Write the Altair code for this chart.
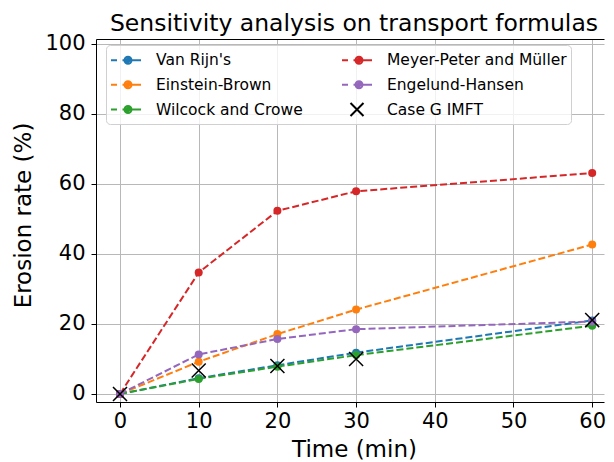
import altair as alt
import pandas as pd

# ---- data ----
time_min = [0, 10, 20, 30, 60]
van_rijn = [0, 4.5, 8.2, 11.8, 21.0]
einstein_brown = [0, 9.2, 17.1, 24.1, 42.7]
wilcock_crowe = [0, 4.3, 7.8, 11.1, 19.5]
meyer_peter_muller = [0, 34.7, 52.3, 57.9, 63.1]
engelund_hansen = [0, 11.3, 15.7, 18.5, 20.7]
case_g_imft = [0, 6.7, 8.0, 10.0, 21.1]

series_names = ["Van Rijn's", "Einstein-Brown", "Wilcock and Crowe",
                "Meyer-Peter and Müller", "Engelund-Hansen"]
series_colors = ["#1f77b4", "#ff7f0e", "#2ca02c", "#d62728", "#9467bd"]
series_values = [van_rijn, einstein_brown, wilcock_crowe,
                 meyer_peter_muller, engelund_hansen]
case_name = "Case G IMFT"

x_ticks = [0, 10, 20, 30, 40, 50, 60]
y_ticks = [0, 20, 40, 60, 80, 100]

# legend entries (filled column by column, 2 columns)
legend_order = series_names + [case_name]
legend_colors = series_colors + ["#000000"]

# dashed line with a dot (dot = concentric stroked rings -> solid disc)
line_marker_path = ("M-1.5,0H-0.9M-0.35,0H1.5"
                    "M0.55,0A0.35,0.35,0,1,1,-0.15,0A0.35,0.35,0,1,1,0.55,0Z"
                    "M0.35,0A0.15,0.15,0,1,1,0.05,0A0.15,0.15,0,1,1,0.35,0Z")
x_path = "M-0.65,-0.65L0.65,0.65M0.65,-0.65L-0.65,0.65"
legend_shapes = [line_marker_path] * 5 + [x_path]

rows = []
for name, vals in zip(series_names, series_values):
    for t, v in zip(time_min, vals):
        rows.append({"series": name, "time": t, "value": v})
df = pd.DataFrame(rows)
case_df = pd.DataFrame({"series": [case_name] * len(time_min),
                        "time": time_min, "value": case_g_imft})
all_df = pd.concat([df, case_df], ignore_index=True)

font = "DejaVu Sans"
x_scale = alt.Scale(domain=[-3.05, 61.5], nice=False, zero=False)
y_scale = alt.Scale(domain=[-2.3, 101.4], nice=False, zero=False)
plot_scale = alt.Scale(domain=series_names, range=series_colors)

x_main = alt.X("time:Q", scale=x_scale,
               axis=alt.Axis(values=x_ticks, title="Time (min)", grid=True,
                             labelBaseline="alphabetic", labelPadding=20,
                             titleBaseline="alphabetic", titleX=258, titleY=54,
                             titleAlign="center"))
y_main = alt.Y("value:Q", scale=y_scale,
               axis=alt.Axis(values=y_ticks, title="Erosion rate (%)", grid=True,
                             labelPadding=6, titleBaseline="alphabetic",
                             titleX=-66, titleY=176, titleAlign="center",
                             titleAngle=270))
x_plain = alt.X("time:Q", scale=x_scale, axis=None)
x_top = alt.X("time:Q", scale=x_scale,
              axis=alt.Axis(orient="top", labels=False, ticks=False, grid=False,
                            domain=True, title=None))

lines = alt.Chart(df).mark_line(strokeDash=[7, 3], strokeWidth=2).encode(
    x=x_main, y=y_main,
    stroke=alt.Stroke("series:N", scale=plot_scale, legend=None),
)
points = alt.Chart(df).mark_circle(size=64, opacity=1).encode(
    x=x_plain, y=y_main,
    fill=alt.Fill("series:N", scale=plot_scale, legend=None),
)
crosses = alt.Chart(case_df).mark_point(
    shape=x_path, size=465, filled=False, color="black", strokeWidth=1.5, opacity=1
).encode(x=x_top, y=y_main)

legend_props = dict(
    title=None, orient="none", legendX=10, legendY=6, columns=2,
    symbolSize=400, symbolStrokeWidth=2, symbolOpacity=1, symbolOffset=5,
    labelFont=font, labelFontSize=15.5, labelColor="black", labelOffset=19,
    labelLimit=300, columnPadding=35, rowPadding=4.75, padding=4,
    fillColor="rgba(255,255,255,0.8)", strokeColor="#d0d0d0", cornerRadius=4,
)
legend_layer = alt.Chart(all_df).mark_point(
    filled=False, strokeWidth=2, opacity=0
).encode(
    x=x_plain, y=y_main,
    color=alt.Color("series:N", scale=alt.Scale(domain=legend_order, range=legend_colors),
                    legend=alt.Legend(**legend_props)),
    shape=alt.Shape("series:N", scale=alt.Scale(domain=legend_order, range=legend_shapes),
                    legend=alt.Legend(**legend_props)),
)

chart = alt.layer(lines, points, crosses, legend_layer).resolve_axis(
    x="independent"
).properties(
    width=508, height=363,
    padding={"left": 88, "top": 31, "right": 2, "bottom": 60},
    autosize=alt.AutoSizeParams(type="none"),
    title=alt.TitleParams("Sensitivity analysis on transport formulas",
                          font=font, fontSize=23.5, fontWeight="normal",
                          color="black", anchor="middle", offset=6, dx=4, dy=9),
).configure_view(stroke="transparent").configure_axis(
    domainColor="black", domainWidth=1, tickColor="black", tickWidth=1,
    tickSize=5, gridColor="#b8b8b8", gridWidth=1,
    labelFont=font, labelFontSize=21, labelColor="black",
    titleFont=font, titleFontSize=23, titleFontWeight="normal", titleColor="black",
)

chart.save("out.html", embed_options={"renderer": "svg", "actions": False})
